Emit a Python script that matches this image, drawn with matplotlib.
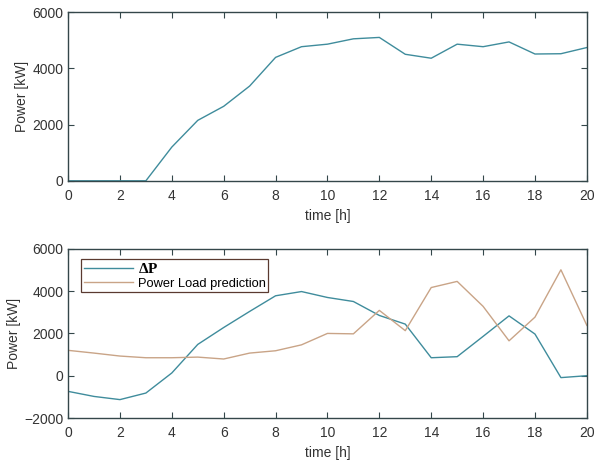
import matplotlib.pyplot as plt
import numpy as np

plt.rcParams['font.family'] = ['Liberation Sans', 'DejaVu Sans']
plt.rcParams['mathtext.fontset'] = 'custom'
plt.rcParams['mathtext.rm'] = 'Liberation Serif:bold'

hours = np.arange(0, 21)

# top panel: power [kW]
power = [0, 0, 0, 0, 1200, 2150, 2650, 3370, 4390, 4770, 4860,
         5050, 5100, 4500, 4360, 4860, 4770, 4940, 4510, 4520, 4740]

# bottom panel
delta_p = [-740, -980, -1130, -820, 130, 1480, 2280, 3040, 3780, 3980, 3700,
           3510, 2850, 2440, 850, 900, 1860, 2830, 1970, -90, 0]
load_pred = [1200, 1070, 930, 850, 850, 880, 790, 1070, 1180, 1460, 2000,
             1980, 3090, 2130, 4170, 4460, 3280, 1650, 2770, 5010, 2380]

teal = '#3f8c9c'
tan = '#c9a487'
frame = '#34474a'
txt = '#333333'

fig = plt.figure(figsize=(5.97, 4.66), dpi=100)
ax1 = fig.add_axes([0.114, 0.612, 0.869, 0.362])
ax2 = fig.add_axes([0.114, 0.103, 0.869, 0.363])

ax1.plot(hours, power, color=teal, lw=1.0)
ax1.set_ylim(0, 6000)
ax1.set_yticks([0, 2000, 4000, 6000])

ax2.plot(hours, delta_p, color=teal, lw=1.0, label=r'$\mathrm{\Delta P}$')
ax2.plot(hours, load_pred, color=tan, lw=1.0, label='Power Load prediction')
ax2.set_ylim(-2000, 6000)
ax2.set_yticks([-2000, 0, 2000, 4000, 6000])
leg = ax2.legend(loc='upper left', bbox_to_anchor=(0.025, 0.94), fontsize=9.3,
                 fancybox=False, framealpha=1, borderaxespad=0,
                 handlelength=3.8, handletextpad=0.4, labelspacing=0.15,
                 borderpad=0.2)
leg.get_texts()[0].set_fontsize(11)
leg.get_frame().set_edgecolor('#5a3a30')
leg.get_frame().set_linewidth(0.9)

for ax in (ax1, ax2):
    ax.set_xlim(0, 20)
    ax.set_xticks(range(0, 21, 2))
    ax.set_xlabel('time [h]', fontsize=10, color=txt, labelpad=4)
    ax.set_ylabel('Power [kW]', fontsize=10, color=txt, labelpad=2)
    ax.tick_params(direction='in', top=True, right=True, labelsize=10,
                   colors=frame, labelcolor=txt, length=4)
    ax.tick_params(axis='x', pad=6)
    for s in ax.spines.values():
        s.set_color(frame)
        s.set_linewidth(1.0)

fig.savefig('out.png', dpi=100)
